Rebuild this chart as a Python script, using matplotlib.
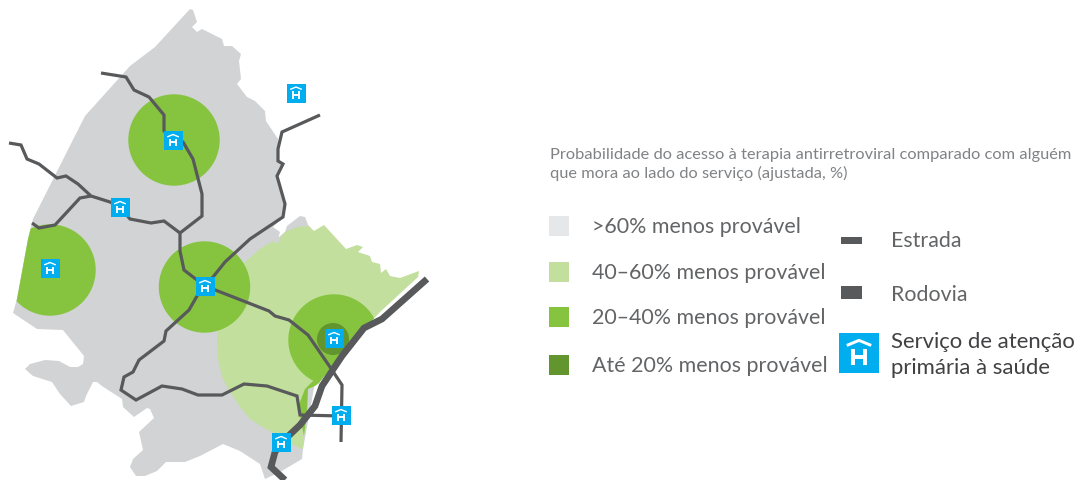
import matplotlib
matplotlib.use('Agg')
import matplotlib.pyplot as plt
from matplotlib.patches import Polygon, Circle, Rectangle

# map, in image pixels
land = [(190, 10), (193, 11), (197, 23), (192, 28), (197, 33), (202, 30), (222, 40), (224, 47), (232, 47),
        (241, 55), (239, 62), (241, 80), (237, 85), (247, 98), (255, 102), (265, 112), (266, 122), (278, 140),
        (278, 150), (277, 162), (282, 165), (277, 177), (285, 205), (283, 218), (273, 228), (280, 233),
        (278, 240), (273, 243), (285, 233), (287, 227), (300, 217), (305, 218), (309, 228), (330, 300),
        (303, 450), (302, 460), (280, 473), (265, 480), (260, 465), (240, 452), (223, 445), (200, 457),
        (185, 463), (166, 463), (157, 472), (145, 477), (136, 477), (130, 468), (133, 460), (143, 451),
        (139, 433), (154, 419), (150, 410), (147, 409), (134, 418), (123, 408), (122, 400), (102, 387),
        (97, 383), (93, 383), (86, 397), (84, 403), (71, 407), (60, 395), (52, 383), (33, 377), (25, 370),
        (30, 365), (45, 361), (59, 362), (70, 368), (78, 368), (83, 365), (84, 357), (63, 331), (37, 330),
        (13, 314), (17, 300), (28, 240), (33, 220), (85, 117), (130, 67), (155, 48)]
light_zone = [(245, 263), (260, 250), (273, 242), (278, 245), (281, 238), (285, 233), (297, 228), (309, 227),
              (314, 232), (324, 226), (346, 250), (357, 246), (363, 248), (358, 253), (370, 257), (372, 263),
              (380, 265), (381, 274), (386, 270), (390, 277), (400, 279), (419, 272), (418, 278), (380, 313),
              (350, 345), (330, 370), (318, 385), (308, 390), (307, 413), (304, 437), (303, 450), (291, 445),
              (272, 433), (262, 428), (250, 420), (240, 408), (230, 393), (222, 378), (218, 360), (217, 343),
              (220, 315), (228, 290)]
mid_lobe = [(313, 382), (305, 390), (300, 403), (300, 417), (304, 437), (307, 413), (308, 390), (315, 387), (320, 383)]
mid_centres = [(174, 141), (50, 271), (204.5, 288), (334, 341)]
mid_radius = 45.7
dark_centre = (333, 340)
dark_radius = 16

roads = [
    [(101, 74), (126, 78), (134, 91), (149, 98), (164, 116), (164, 132), (173, 141), (183, 143), (193, 160),
     (202, 195), (202, 217), (180, 234), (180, 252), (184, 271), (197, 281), (205, 287)],
    [(9, 144), (21, 146), (27, 160), (39, 165), (57, 179), (66, 177), (78, 185), (91, 197), (110, 203),
     (120, 208), (130, 220), (151, 224), (164, 222), (180, 234)],
    [(91, 197), (80, 199), (55, 226), (39, 229), (32, 224)],
    [(320, 116), (282, 133), (278, 150), (278, 162), (283, 165), (277, 177), (285, 205), (283, 218), (250, 240),
     (225, 263), (213, 278), (205, 287)],
    [(205, 287), (197, 297), (189, 311), (166, 332), (164, 342), (139, 361), (133, 373), (124, 378), (121, 391),
     (136, 401), (162, 387), (182, 390), (198, 396), (222, 396), (244, 385), (267, 387), (297, 397), (300, 416),
     (341, 417)],
    [(205, 287), (269, 312), (275, 317), (289, 321), (308, 336), (330, 368), (342, 386), (341, 443)],
]
highway = [(427, 280), (382, 320), (364, 329), (342, 357), (322, 387), (315, 407), (300, 426), (282, 443),
           (275, 453), (271, 468), (285, 481)]
services = [(173, 141.5), (120, 208.5), (50, 269.5), (296, 94), (205, 287.5), (334, 339.5), (341, 416.5), (281, 443.5)]

title_lines = ['Probabilidade do acesso à terapia antirretroviral comparado com alguém',
               'que mora ao lado do serviço (ajustada, %)']
zone_labels = ['>60% menos provável', '40–60% menos provável', '20–40% menos provável', 'Até 20% menos provável']
line_labels = ['Estrada', 'Rodovia']
service_label = ['Serviço de atenção', 'primária à saúde']

GREY = '#d1d3d4'
LIGHT = '#c2df9d'
MID = '#86c440'
DARK = '#63952f'
ROAD = '#58595b'
BLUE = '#00aeef'
FONT = 'Lato'


def draw_service(ax, x, y, size):
    ax.add_patch(Rectangle((x - size / 2, y - size / 2), size, size, facecolor=BLUE, edgecolor='none', zorder=6))
    u = size / 19.0
    lw = 1.35 * u
    # roof
    ax.plot([x - 5.8 * u, x, x + 5.8 * u], [y - 3.6 * u, y - 6 * u, y - 3.6 * u],
            color='white', lw=lw * 0.75, zorder=7, solid_capstyle='butt')
    # H
    ax.plot([x - 3 * u, x - 3 * u], [y - 2 * u, y + 5.5 * u], color='white', lw=lw, zorder=7, solid_capstyle='butt')
    ax.plot([x + 3 * u, x + 3 * u], [y - 2 * u, y + 5.5 * u], color='white', lw=lw, zorder=7, solid_capstyle='butt')
    ax.plot([x - 3 * u, x + 3 * u], [y + 1.8 * u, y + 1.8 * u], color='white', lw=lw, zorder=7, solid_capstyle='butt')


fig = plt.figure(figsize=(10.77, 4.81), dpi=100)
ax = fig.add_axes([0, 0, 1, 1])
ax.set_xlim(0, 1077)
ax.set_ylim(481, 0)
ax.axis('off')

land_patch = Polygon(land, closed=True, facecolor=GREY, edgecolor='none', zorder=1)
ax.add_patch(land_patch)
light_patch = Polygon(light_zone, closed=True, facecolor=LIGHT, edgecolor='none', zorder=2)
ax.add_patch(light_patch)

for i, c in enumerate(mid_centres):
    circ = Circle(c, mid_radius, facecolor=MID, edgecolor='none', zorder=3)
    ax.add_patch(circ)
    if i == 1:
        circ.set_clip_path(land_patch)
    if i == 3:
        circ.set_clip_path(light_patch)
ax.add_patch(Polygon(mid_lobe, closed=True, facecolor=MID, edgecolor='none', zorder=3))
ax.add_patch(Circle(dark_centre, dark_radius, facecolor=DARK, edgecolor='none', zorder=3))

for r in roads:
    ax.plot([p[0] for p in r], [p[1] for p in r], color=ROAD, lw=2.3, zorder=4, solid_joinstyle='miter',
            solid_capstyle='butt')
ax.plot([p[0] for p in highway], [p[1] for p in highway], color=ROAD, lw=4.8, zorder=5, solid_joinstyle='miter',
        solid_capstyle='butt')

for s in services:
    draw_service(ax, s[0], s[1], 19)

# legend
for i, t in enumerate(title_lines):
    ax.text(550, 155 + i * 18.5, t, fontsize=11.8, family=FONT, color='#808285', va='center', ha='left')

square_y = [227, 273, 318, 366]
for y, t, col in zip(square_y, zone_labels, ['#e6e7e8', LIGHT, MID, DARK]):
    ax.add_patch(Rectangle((549, y - 10), 20, 20, facecolor=col, edgecolor='none'))
    ax.text(592, y, t, fontsize=15.4, family=FONT, color='#636466', va='center', ha='left')

ax.add_patch(Rectangle((841, 238), 21, 7, facecolor=ROAD, edgecolor='none'))
ax.add_patch(Rectangle((841, 287), 21, 13, facecolor=ROAD, edgecolor='none'))
ax.text(891, 241, line_labels[0], fontsize=15.4, family=FONT, color='#636466', va='center', ha='left')
ax.text(891, 295, line_labels[1], fontsize=15.4, family=FONT, color='#636466', va='center', ha='left')
draw_service(ax, 859, 354, 40)
for i, t in enumerate(service_label):
    ax.text(891, 342 + i * 26, t, fontsize=15.9, family=FONT, color='#414042', va='center', ha='left')

fig.savefig('out.png', dpi=100)
